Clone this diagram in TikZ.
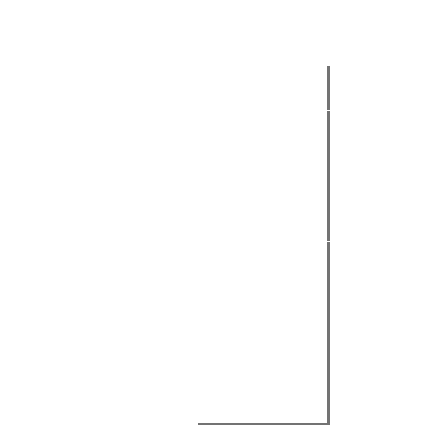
\documentclass[tikz,border=0pt]{standalone}
\begin{document}
\begin{tikzpicture}[scale=1,
		wire/.style={draw=gray!90!black, line width=0.85pt}]
				\useasboundingbox (0,0) rectangle (4.36,4.37);
				% Points
				\coordinate (top) at (3.285,3.71);
				\coordinate (brk1a) at (3.285,3.27);
				\coordinate (brk1b) at (3.285,3.26);
				\coordinate (brk2a) at (3.285,1.96);
				\coordinate (brk2b) at (3.285,1.95);
				\coordinate (corner) at (3.285,0.13);
				\coordinate (left) at (1.98,0.13);

				% Wire
				\draw[wire] (top) -- (brk1a);
				\draw[wire] (brk1b) -- (brk2a);
				\draw[wire, line join=miter] (brk2b) -- (corner) -- (left);
			\end{tikzpicture}
\end{document}
